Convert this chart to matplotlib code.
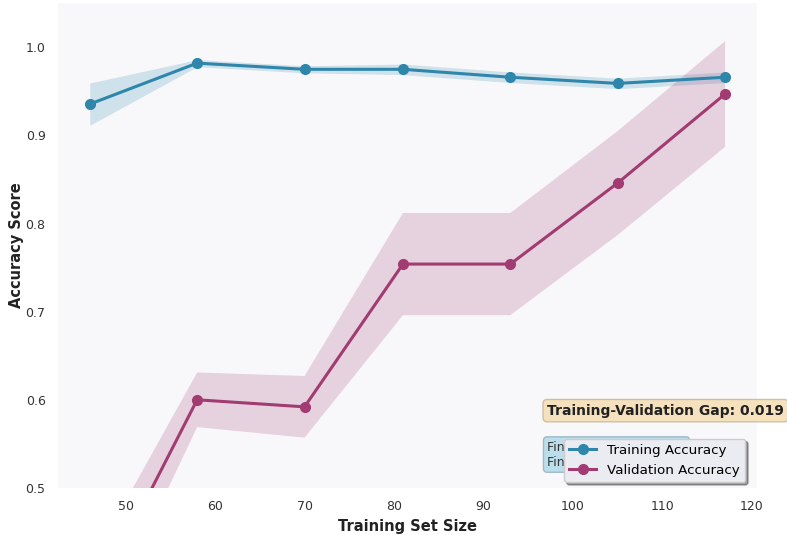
import matplotlib
matplotlib.use("Agg")
import matplotlib.pyplot as plt
import numpy as np

# learning curve results (mean / std over CV folds)
train_sizes = [46, 58, 70, 81, 93, 105, 117]
train_mean = [0.9355, 0.982, 0.975, 0.975, 0.966, 0.959, 0.966]
train_std = [0.024, 0.004, 0.004, 0.006, 0.006, 0.006, 0.006]
val_mean = [0.362, 0.600, 0.592, 0.754, 0.754, 0.846, 0.947]
val_std = [0.050, 0.031, 0.035, 0.058, 0.058, 0.059, 0.060]

train_color = '#2E86AB'
val_color = '#A23B72'

x = np.array(train_sizes)
tm, ts = np.array(train_mean), np.array(train_std)
vm, vs = np.array(val_mean), np.array(val_std)

fig = plt.figure(figsize=(7.87, 5.35), dpi=100)
ax = fig.add_axes([0.0737, 0.088, 0.888, 0.906])
ax.set_facecolor('#f8f8fb')

ax.plot(x, tm, 'o-', color=train_color, lw=2.2, ms=7, label='Training Accuracy')
ax.fill_between(x, tm - ts, tm + ts, color=train_color, alpha=0.2, lw=0)
ax.plot(x, vm, 'o-', color=val_color, lw=2.2, ms=7, label='Validation Accuracy')
ax.fill_between(x, vm - vs, vm + vs, color=val_color, alpha=0.2, lw=0)

ax.set_ylim(0.5, 1.05)
ax.set_xlabel('Training Set Size', fontsize=10.5, fontweight='bold', color='#222222')
ax.set_ylabel('Accuracy Score', fontsize=10.5, fontweight='bold', color='#222222', labelpad=1)
ax.tick_params(length=0, labelsize=9, colors='#333333', pad=9)
for s in ax.spines.values():
    s.set_visible(False)

gap = train_mean[-1] - val_mean[-1]
ax.text(0.7, 0.145, f'Training-Validation Gap: {gap:.3f}', transform=ax.transAxes,
        fontsize=10, fontweight='bold', color='#222222', va='bottom', ha='left',
        bbox=dict(boxstyle='round,pad=0.3', facecolor='wheat', edgecolor='#c8b89a', alpha=0.85))
ax.text(0.7, 0.04, f'Final Training: {train_mean[-1]:.3f}\nFinal Validation: {val_mean[-1]:.3f}',
        transform=ax.transAxes, fontsize=9, color='#333333', va='bottom', ha='left',
        bbox=dict(boxstyle='round,pad=0.3', facecolor='lightblue', edgecolor='#8fb0c0', alpha=0.8))

leg = ax.legend(loc='lower right', fontsize=9.7, frameon=True, fancybox=True, shadow=True,
                bbox_to_anchor=(0.993, -0.002))
leg.get_frame().set_facecolor('#ebebf2')
leg.get_frame().set_alpha(1)

fig.savefig('out.png', dpi=100, facecolor='white')
